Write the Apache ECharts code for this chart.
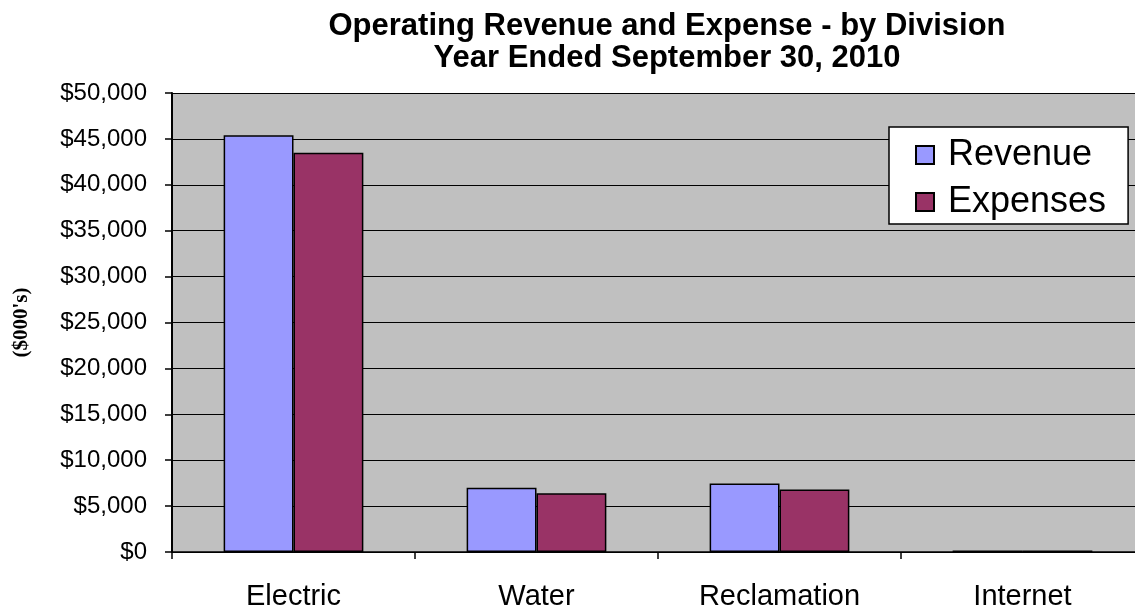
<!DOCTYPE html>
<html>
<head>
<meta charset="utf-8">
<script src="https://cdn.jsdelivr.net/npm/echarts@6/dist/echarts.min.js"></script>
<style>
html, body { margin: 0; padding: 0; background: #fff; overflow: hidden; }
/* plot runs a little past the right edge of the window, as in the original */
#main { width: 1150px; height: 612px; }
</style>
</head>
<body>
<div id="main"></div>
<script>
var divisions = ['Electric', 'Water', 'Reclamation', 'Internet'];
var revenue = [45400, 7000, 7450, 170];
var expenses = [43500, 6400, 6800, 170];
var yTicks = [0, 5000, 10000, 15000, 20000, 25000, 30000, 35000, 40000, 45000, 50000];

function money(v) {
    return '$' + v.toString().replace(/\B(?=(\d{3})+(?!\d))/g, ',');
}

var myChart = echarts.init(document.getElementById('main'));
var option = {
    animation: false,
    title: {
        text: 'Operating Revenue and Expense - by Division\nYear Ended September 30, 2010',
        left: 662,
        top: 5,
        textAlign: 'center',
        textStyle: {
            fontFamily: 'Liberation Sans',
            fontWeight: 'bold',
            fontSize: 31,
            lineHeight: 32,
            color: '#000'
        }
    },
    legend: {
        orient: 'vertical',
        left: 889,
        top: 127,
        padding: [10, 22, 4, 26],
        itemGap: 11,
        itemWidth: 18,
        itemHeight: 18,
        backgroundColor: '#fff',
        borderColor: '#000',
        borderWidth: 1.5,
        icon: 'rect',
        textStyle: {
            fontFamily: 'Liberation Sans',
            fontSize: 36,
            lineHeight: 36,
            color: '#000',
            padding: [0, 0, 0, 9]
        },
        data: ['Revenue', 'Expenses']
    },
    grid: {
        left: 172,
        right: 6,
        top: 93,
        bottom: 60,
        show: true,
        backgroundColor: '#C0C0C0',
        borderWidth: 0
    },
    xAxis: {
        type: 'category',
        data: divisions,
        axisLine: { lineStyle: { color: '#000', width: 1.5 } },
        axisTick: { show: true, length: 7, lineStyle: { color: '#000', width: 1.5 } },
        axisLabel: {
            margin: 30,
            fontFamily: 'Liberation Sans',
            fontSize: 29,
            color: '#000'
        }
    },
    yAxis: {
        type: 'value',
        min: yTicks[0],
        max: yTicks[yTicks.length - 1],
        interval: 5000,
        name: "($000's)",
        nameLocation: 'middle',
        nameRotate: 90,
        nameGap: 140,
        nameTextStyle: {
            fontFamily: 'Liberation Serif',
            fontWeight: 'bold',
            fontSize: 21,
            color: '#000'
        },
        axisLine: { show: true, lineStyle: { color: '#000', width: 2 } },
        axisTick: { show: true, length: 7, lineStyle: { color: '#000', width: 1.5 } },
        splitLine: { lineStyle: { color: '#000', width: 1.2 } },
        axisLabel: {
            margin: 25,
            fontFamily: 'Liberation Sans',
            fontSize: 24,
            color: '#000',
            formatter: money
        }
    },
    series: [
        {
            name: 'Revenue',
            type: 'bar',
            data: revenue,
            barGap: '0%',
            barCategoryGap: '42.5%',
            itemStyle: { color: '#9999FF', borderColor: '#000', borderWidth: 1.5 }
        },
        {
            name: 'Expenses',
            type: 'bar',
            data: expenses,
            itemStyle: { color: '#993366', borderColor: '#000', borderWidth: 1.5 }
        }
    ]
};
myChart.setOption(option);
</script>
</body>
</html>
